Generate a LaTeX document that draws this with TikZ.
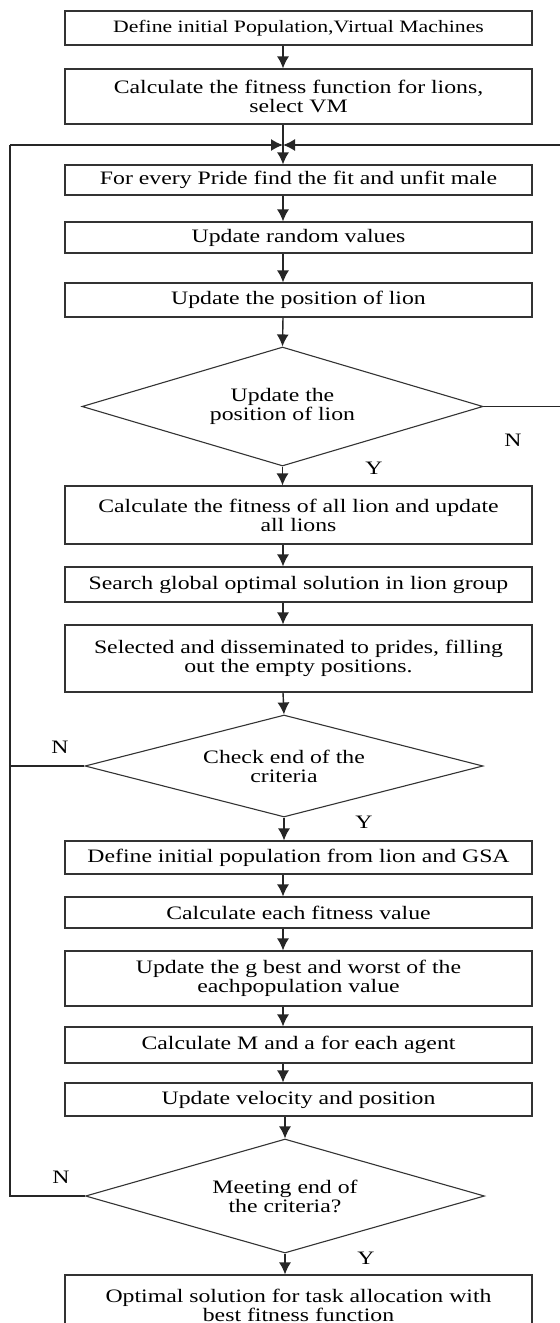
\documentclass[tikz,border=0pt]{standalone}
\usepackage{fontspec}
\setmainfont{Liberation Serif}[FakeStretch=1.25]
\usetikzlibrary{shapes.geometric,arrows.meta}

\begin{document}
\begin{tikzpicture}[x=0.5pt,y=-0.5pt,
    box/.style={draw=black!80,line width=0.55pt,minimum width=233.5pt,inner sep=0pt,
        align=center,font=\fontsize{9.5}{9.5}\selectfont},
    dec/.style={diamond,aspect=3.4,draw=black!80,line width=0.55pt,inner sep=0pt,
        align=center,font=\fontsize{9.5}{9.5}\selectfont},
    lbl/.style={font=\fontsize{9.5}{9.5}\selectfont,inner sep=0pt},
    line/.style={draw=black!85,line width=0.7pt},
    arr/.style={line,-{Latex[length=6pt,width=6pt]}}]
    \useasboundingbox[fill=white](0,0)rectangle(559,1323);
    \coordinate (axis) at (283,0);
    \coordinate (merge) at (283,145);
    \coordinate (loopL) at (10,145);
    \coordinate (loopR) at (566,145);
    % first part: lion search
    \node[box,minimum height=17pt,font=\fontsize{8.7}{9}\selectfont] (init) at (298.5,28)
    {Define initial Population,Virtual Machines};
    \node[box,minimum height=27.5pt] (fitlion) at (298.5,96.5)
    {Calculate the fitness function for lions,\\select VM};
    \node[box,minimum height=15pt] (pride) at (298.5,180)
    {For every Pride find the fit and unfit male};
    \node[box,minimum height=15.5pt] (random) at (298.5,237.5)
    {Update random values};
    \node[box,minimum height=17pt] (position) at (298.5,300)
    {Update the position of lion};
    \node[dec,minimum width=200.5pt,minimum height=59.5pt] (posq) at (282.5,406.5)
    {Update the\\position of lion};
    \node[box,minimum height=29pt] (fitall) at (298.5,515)
    {Calculate the fitness of all lion and update\\all lions};
    \node[box,minimum height=17.5pt] (search) at (298.5,584.5)
    {Search global optimal solution in lion group};
    \node[box,minimum height=33.5pt] (spread) at (298.5,658.5)
    {Selected and disseminated to prides, filling\\out the empty positions.};
    \node[dec,minimum width=199pt,minimum height=51pt] (critq) at (284,766)
    {Check end of the\\criteria};
    % second part: GSA
    \node[box,minimum height=16.5pt] (gsapop) at (298.5,857.5)
    {Define initial population from lion and GSA};
    \node[box,minimum height=15.5pt] (each) at (298.5,912.5)
    {Calculate each fitness value};
    \node[box,minimum height=27.5pt] (gbest) at (298.5,978.5)
    {Update the g best and worst of the\\eachpopulation value};
    \node[box,minimum height=18pt] (agent) at (298.5,1045)
    {Calculate M and a for each agent};
    \node[box,minimum height=16.5pt] (velocity) at (298.5,1099.5)
    {Update velocity and position};
    \node[dec,minimum width=199.5pt,minimum height=57pt] (meetq) at (285,1196)
    {Meeting end of\\the criteria?};
    \node[box,minimum height=30pt] (optimal) at (298.5,1305)
    {Optimal solution for task allocation with\\best fitness function};
    % labels
    \node[lbl] (n1) at (513,440) {N};
    \node[lbl] (y1) at (374,468) {Y};
    \node[lbl] (n2) at (60,747) {N};
    \node[lbl] (y2) at (364,822) {Y};
    \node[lbl] (n3) at (61,1177) {N};
    \node[lbl] (y3) at (366,1258) {Y};
    % connectors
    \draw[arr] (init.south -| axis)--(fitlion.north -| axis);
    \draw[line] (fitlion.south -| axis)--(merge);
    \draw[arr] (merge)--(pride.north -| axis);
    \draw[arr] (loopL)--(merge);
    \draw[arr] (loopR)--(merge);
    \draw[arr] (pride.south -| axis)--(random.north -| axis);
    \draw[arr] (random.south -| axis)--(position.north -| axis);
    \draw[arr] (position.south -| axis)--(posq.north);
    \draw[line] (posq.east)-|(loopR);
    \draw[arr] (posq.south)--(fitall.north -| posq.south);
    \draw[arr] (fitall.south -| axis)--(search.north -| axis);
    \draw[arr] (search.south -| axis)--(spread.north -| axis);
    \draw[arr] (spread.south -| axis)--(critq.north);
    \draw[line] (critq.west)-|(loopL);
    \draw[arr] (critq.south)--(gsapop.north -| critq.south);
    \draw[arr] (gsapop.south -| axis)--(each.north -| axis);
    \draw[arr] (each.south -| axis)--(gbest.north -| axis);
    \draw[arr] (gbest.south -| axis)--(agent.north -| axis);
    \draw[arr] (agent.south -| axis)--(velocity.north -| axis);
    \draw[arr] (velocity.south -| meetq.north)--(meetq.north);
    \draw[line] (meetq.west)-|(loopL);
    \draw[arr] (meetq.south)--(optimal.north -| meetq.south);
\end{tikzpicture}
\end{document}
